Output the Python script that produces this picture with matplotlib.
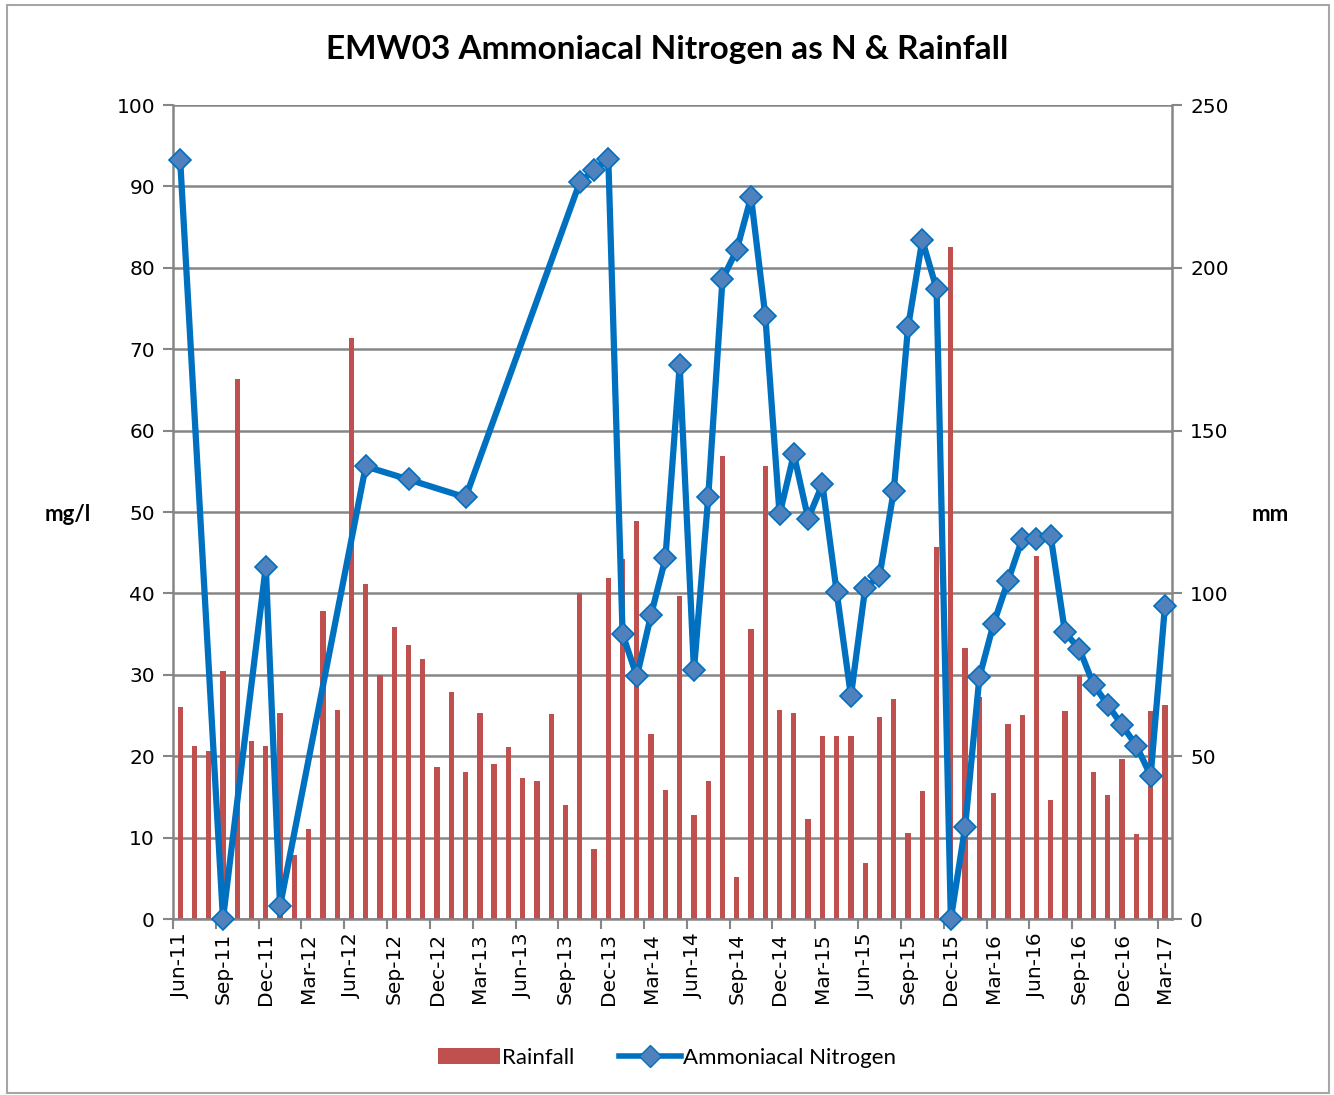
import matplotlib
matplotlib.use('Agg')
import matplotlib.pyplot as plt
from matplotlib.patches import Rectangle
from matplotlib.lines import Line2D
from matplotlib.patches import Patch
import numpy as np
import pandas as pd

# monthly categories Jun-11 .. Mar-17
months = pd.date_range('2011-06-01', periods=70, freq='MS').strftime('%b-%y').tolist()

# rainfall (mm), one bar per month
rainfall = [65.0, 53.1, 51.5, 76.3, 165.8, 54.8, 53.1, 63.3, 19.7, 27.6,
            94.6, 64.2, 178.3, 102.8, 74.8, 89.8, 84.1, 80.0, 46.7, 69.6,
            45.2, 63.3, 47.7, 52.8, 43.3, 42.4, 63.0, 35.0, 100.2, 21.5,
            104.6, 110.7, 122.2, 56.8, 39.5, 99.2, 31.9, 42.4, 142.1, 13.0,
            89.0, 139.0, 64.2, 63.3, 30.8, 56.3, 56.3, 56.3, 17.3, 62.2,
            67.6, 26.3, 39.3, 114.2, 206.3, 83.2, 68.3, 38.7, 60.0, 62.7,
            111.5, 36.7, 63.8, 74.8, 45.2, 38.2, 49.2, 26.0, 63.8, 65.8]

# ammoniacal nitrogen (mg/l), None = no sample that month
nitrogen = [93.3, None, None, 0.0, None, None, 43.3, 1.6, None, None,
            None, None, None, 55.6, None, None, 54.0, None, None, None,
            51.8, None, None, None, None, None, None, None, 90.5, 92.0,
            93.4, 35.0, 29.8, 37.4, 44.3, 68.0, 30.6, 51.8, 78.6, 82.2,
            88.7, 74.1, 49.7, 57.1, 49.2, 53.4, 40.2, 27.4, 40.7, 42.1,
            52.6, 72.7, 83.4, 77.4, 0.0, 11.3, 29.7, 36.3, 41.5, 46.7,
            46.7, 47.0, 35.2, 33.2, 28.8, 26.3, 23.8, 21.3, 17.6, 38.4]

title = 'EMW03 Ammoniacal Nitrogen as N & Rainfall'

bar_color = '#C0504D'
line_color = '#0070C0'
grid_color = '#868686'
cal = ['Lato', 'DejaVu Sans']

x = np.arange(len(months))
n = np.array([np.nan if v is None else v for v in nitrogen], dtype=float)
ok = ~np.isnan(n)

fig = plt.figure(figsize=(13.34, 10.95), dpi=100)
fig.patches.append(Rectangle((0.005, 0.002), 0.991, 0.993, transform=fig.transFigure,
                             fill=False, edgecolor='#A6A6A6', linewidth=1.5))

# bars axes (right scale) sits behind the line axes
axb = fig.add_axes([0.1297, 0.1607, 0.7489, 0.7434])
axl = axb.twinx()

axb.bar(x, rainfall, width=0.37, color=bar_color, zorder=2)
axb.set_xlim(-0.5, len(months) - 0.5)
axb.set_ylim(0, 250)
axb.set_yticks(np.arange(0, 251, 50))
axb.set_yticks(np.arange(0, 251, 25), minor=True)
axb.yaxis.tick_right()
axb.yaxis.set_label_position('right')
axb.grid(True, axis='y', which='both', color=grid_color, linewidth=1.8)
axb.set_axisbelow(True)
axb.tick_params(axis='y', which='major', length=7, width=1.5, color=grid_color,
                labelsize=14.5, pad=6)
axb.tick_params(axis='y', which='minor', length=0)

# x axis: ticks between categories, labels every 3 months
axb.set_xticks(np.arange(-0.5, len(months), 3))
axb.set_xticklabels([])
axb.set_xticks(x[::3], minor=True)
axb.set_xticklabels(months[::3], minor=True, rotation=90, fontsize=14.5)
axb.tick_params(axis='x', which='major', length=7, width=1.5, color=grid_color)
axb.tick_params(axis='x', which='minor', length=0, pad=10)

for s in ['left', 'right', 'bottom', 'top']:
    axb.spines[s].set_color(grid_color)
    axb.spines[s].set_linewidth(1.8)
axb.spines['top'].set_visible(False)

# line axes (left scale)
axl.plot(x[ok], n[ok], color=line_color, linewidth=4.5, marker='D', markersize=11.5,
         markerfacecolor='#4F81BD', markeredgecolor=line_color, markeredgewidth=1.2,
         clip_on=False, zorder=5)
axl.set_ylim(0, 100)
axl.set_yticks(np.arange(0, 101, 10))
axl.yaxis.tick_left()
axl.yaxis.set_label_position('left')
axl.tick_params(axis='y', length=7, width=1.5, color=grid_color, labelsize=14.5, pad=6)
for s in axl.spines.values():
    s.set_visible(False)

fig.text(0.051, 0.530, 'mg/l', fontsize=16, fontweight='bold', family=cal,
         ha='center', va='center')
fig.text(0.952, 0.530, 'mm', fontsize=16, fontweight='bold', family=cal,
         ha='center', va='center')
fig.text(0.5, 0.955, title, fontsize=24, fontweight='bold', family=cal,
         ha='center', va='center')

handles = [Patch(facecolor=bar_color, edgecolor='none'),
           Line2D([0], [0], color=line_color, linewidth=4, marker='D', markersize=11,
                  markerfacecolor='#4F81BD', markeredgecolor=line_color)]
fig.legend(handles, ['Rainfall', 'Ammoniacal Nitrogen'], loc='center',
           bbox_to_anchor=(0.5, 0.034), ncol=2, frameon=False,
           prop={'family': cal, 'size': 16}, handlelength=2.8,
           handletextpad=0.1, columnspacing=2.0)

fig.savefig('out.png', dpi=100)
